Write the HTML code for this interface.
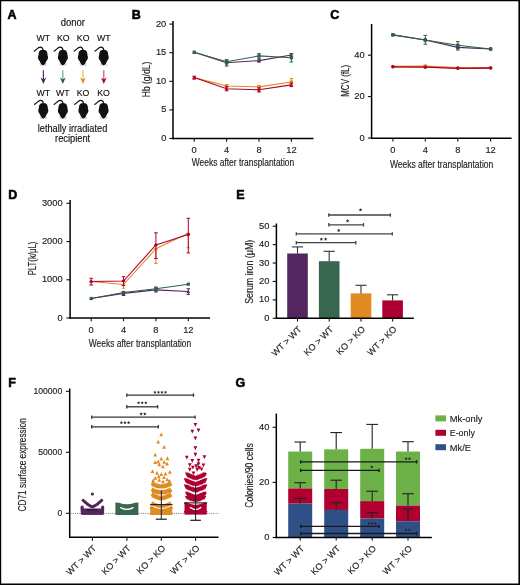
<!DOCTYPE html>
<html><head><meta charset="utf-8"><style>
html,body{margin:0;padding:0;background:#fff;}
svg{display:block;will-change:transform;}
text{font-family:"Liberation Sans",sans-serif;}
</style></head><body>
<svg width="520" height="585" viewBox="0 0 520 585">
<rect width="520" height="585" fill="#fff"/>
<path d="M0,0H520V585H0Z M1.2,1.2V583.4H518.4V1.2Z" fill="#000" fill-rule="evenodd"/>
<text x="7.6" y="18.6" font-size="12.5" text-anchor="start" font-weight="bold" fill="#000" stroke="#000" stroke-width="0.55">A</text>
<text x="72.9" y="26.2" font-size="10" text-anchor="middle" font-weight="normal" fill="#111" stroke="#111" stroke-width="0.15" textLength="24.2" lengthAdjust="spacingAndGlyphs">donor</text>
<text x="43.25" y="41.3" font-size="9.6" text-anchor="middle" font-weight="normal" fill="#111" stroke="#111" stroke-width="0.15" textLength="13.6" lengthAdjust="spacingAndGlyphs">WT</text>
<text x="63.3" y="41.3" font-size="9.6" text-anchor="middle" font-weight="normal" fill="#111" stroke="#111" stroke-width="0.15" textLength="12.6" lengthAdjust="spacingAndGlyphs">KO</text>
<text x="83.15" y="41.3" font-size="9.6" text-anchor="middle" font-weight="normal" fill="#111" stroke="#111" stroke-width="0.15" textLength="12.6" lengthAdjust="spacingAndGlyphs">KO</text>
<text x="103.75" y="41.3" font-size="9.6" text-anchor="middle" font-weight="normal" fill="#111" stroke="#111" stroke-width="0.15" textLength="13.6" lengthAdjust="spacingAndGlyphs">WT</text>
<text x="43.25" y="96.0" font-size="9.6" text-anchor="middle" font-weight="normal" fill="#111" stroke="#111" stroke-width="0.15" textLength="13.6" lengthAdjust="spacingAndGlyphs">WT</text>
<text x="62.85" y="96.0" font-size="9.6" text-anchor="middle" font-weight="normal" fill="#111" stroke="#111" stroke-width="0.15" textLength="13.6" lengthAdjust="spacingAndGlyphs">WT</text>
<text x="83.0" y="96.0" font-size="9.6" text-anchor="middle" font-weight="normal" fill="#111" stroke="#111" stroke-width="0.15" textLength="12.6" lengthAdjust="spacingAndGlyphs">KO</text>
<text x="103.55" y="96.0" font-size="9.6" text-anchor="middle" font-weight="normal" fill="#111" stroke="#111" stroke-width="0.15" textLength="12.6" lengthAdjust="spacingAndGlyphs">KO</text>
<text x="72.5" y="132.2" font-size="10" text-anchor="middle" font-weight="normal" fill="#111" stroke="#111" stroke-width="0.15" textLength="69.5" lengthAdjust="spacingAndGlyphs">lethally irradiated</text>
<text x="72.6" y="142.2" font-size="10" text-anchor="middle" font-weight="normal" fill="#111" stroke="#111" stroke-width="0.15" textLength="35.1" lengthAdjust="spacingAndGlyphs">recipient</text>
<g transform="translate(43,47.07)">
<path d="M0.1,3.2 C-0.1,1.8 -1,0.2 -2.5,0.1 C-4,0 -5,0.8 -6,1.8 C-7,2.8 -7.8,3.8 -8.8,4.1" fill="none" stroke="#111" stroke-width="1.15" stroke-linecap="round"/>
<path d="M0,2.6 C2.2,2.6 3.4,3.5 3.9,4.8 C4.4,6 4.5,7.2 4.6,8.4 C4.9,9.2 5,9.8 5,10.8 C5,11.8 4.7,12.4 4.1,12.9 C3.5,13.5 3.1,14.6 2.6,15.8 C2.1,17 1.1,18.4 0,18.4 C-1.1,18.4 -2.1,17 -2.6,15.8 C-3.1,14.6 -3.5,13.5 -4.1,12.9 C-4.7,12.4 -5,11.8 -5,10.8 C-5,9.8 -4.9,9.2 -4.6,8.4 C-4.5,7.2 -4.4,6 -3.9,4.8 C-3.4,3.5 -2.2,2.6 0,2.6 Z" fill="#111"/>
<path d="M-3.2,16.2 L-2.5,18.8 M3.4,16.2 L2.8,18.8 M-2.2,17 L-1.9,18.9 M2.4,17 L2.1,18.9" stroke="#b8b8b8" stroke-width="0.6"/>
</g>
<g transform="translate(62.9,47.07)">
<path d="M0.1,3.2 C-0.1,1.8 -1,0.2 -2.5,0.1 C-4,0 -5,0.8 -6,1.8 C-7,2.8 -7.8,3.8 -8.8,4.1" fill="none" stroke="#111" stroke-width="1.15" stroke-linecap="round"/>
<path d="M0,2.6 C2.2,2.6 3.4,3.5 3.9,4.8 C4.4,6 4.5,7.2 4.6,8.4 C4.9,9.2 5,9.8 5,10.8 C5,11.8 4.7,12.4 4.1,12.9 C3.5,13.5 3.1,14.6 2.6,15.8 C2.1,17 1.1,18.4 0,18.4 C-1.1,18.4 -2.1,17 -2.6,15.8 C-3.1,14.6 -3.5,13.5 -4.1,12.9 C-4.7,12.4 -5,11.8 -5,10.8 C-5,9.8 -4.9,9.2 -4.6,8.4 C-4.5,7.2 -4.4,6 -3.9,4.8 C-3.4,3.5 -2.2,2.6 0,2.6 Z" fill="#111"/>
<path d="M-3.2,16.2 L-2.5,18.8 M3.4,16.2 L2.8,18.8 M-2.2,17 L-1.9,18.9 M2.4,17 L2.1,18.9" stroke="#b8b8b8" stroke-width="0.6"/>
</g>
<g transform="translate(82.9,47.07)">
<path d="M0.1,3.2 C-0.1,1.8 -1,0.2 -2.5,0.1 C-4,0 -5,0.8 -6,1.8 C-7,2.8 -7.8,3.8 -8.8,4.1" fill="none" stroke="#111" stroke-width="1.15" stroke-linecap="round"/>
<path d="M0,2.6 C2.2,2.6 3.4,3.5 3.9,4.8 C4.4,6 4.5,7.2 4.6,8.4 C4.9,9.2 5,9.8 5,10.8 C5,11.8 4.7,12.4 4.1,12.9 C3.5,13.5 3.1,14.6 2.6,15.8 C2.1,17 1.1,18.4 0,18.4 C-1.1,18.4 -2.1,17 -2.6,15.8 C-3.1,14.6 -3.5,13.5 -4.1,12.9 C-4.7,12.4 -5,11.8 -5,10.8 C-5,9.8 -4.9,9.2 -4.6,8.4 C-4.5,7.2 -4.4,6 -3.9,4.8 C-3.4,3.5 -2.2,2.6 0,2.6 Z" fill="#111"/>
<path d="M-3.2,16.2 L-2.5,18.8 M3.4,16.2 L2.8,18.8 M-2.2,17 L-1.9,18.9 M2.4,17 L2.1,18.9" stroke="#b8b8b8" stroke-width="0.6"/>
</g>
<g transform="translate(103.7,47.07)">
<path d="M0.1,3.2 C-0.1,1.8 -1,0.2 -2.5,0.1 C-4,0 -5,0.8 -6,1.8 C-7,2.8 -7.8,3.8 -8.8,4.1" fill="none" stroke="#111" stroke-width="1.15" stroke-linecap="round"/>
<path d="M0,2.6 C2.2,2.6 3.4,3.5 3.9,4.8 C4.4,6 4.5,7.2 4.6,8.4 C4.9,9.2 5,9.8 5,10.8 C5,11.8 4.7,12.4 4.1,12.9 C3.5,13.5 3.1,14.6 2.6,15.8 C2.1,17 1.1,18.4 0,18.4 C-1.1,18.4 -2.1,17 -2.6,15.8 C-3.1,14.6 -3.5,13.5 -4.1,12.9 C-4.7,12.4 -5,11.8 -5,10.8 C-5,9.8 -4.9,9.2 -4.6,8.4 C-4.5,7.2 -4.4,6 -3.9,4.8 C-3.4,3.5 -2.2,2.6 0,2.6 Z" fill="#111"/>
<path d="M-3.2,16.2 L-2.5,18.8 M3.4,16.2 L2.8,18.8 M-2.2,17 L-1.9,18.9 M2.4,17 L2.1,18.9" stroke="#b8b8b8" stroke-width="0.6"/>
</g>
<g transform="translate(43.3,100.3)">
<path d="M0.1,3.2 C-0.1,1.8 -1,0.2 -2.5,0.1 C-4,0 -5,0.8 -6,1.8 C-7,2.8 -7.8,3.8 -8.8,4.1" fill="none" stroke="#111" stroke-width="1.15" stroke-linecap="round"/>
<path d="M0,2.6 C2.2,2.6 3.4,3.5 3.9,4.8 C4.4,6 4.5,7.2 4.6,8.4 C4.9,9.2 5,9.8 5,10.8 C5,11.8 4.7,12.4 4.1,12.9 C3.5,13.5 3.1,14.6 2.6,15.8 C2.1,17 1.1,18.4 0,18.4 C-1.1,18.4 -2.1,17 -2.6,15.8 C-3.1,14.6 -3.5,13.5 -4.1,12.9 C-4.7,12.4 -5,11.8 -5,10.8 C-5,9.8 -4.9,9.2 -4.6,8.4 C-4.5,7.2 -4.4,6 -3.9,4.8 C-3.4,3.5 -2.2,2.6 0,2.6 Z" fill="#111"/>
<path d="M-3.2,16.2 L-2.5,18.8 M3.4,16.2 L2.8,18.8 M-2.2,17 L-1.9,18.9 M2.4,17 L2.1,18.9" stroke="#b8b8b8" stroke-width="0.6"/>
</g>
<g transform="translate(62.9,100.3)">
<path d="M0.1,3.2 C-0.1,1.8 -1,0.2 -2.5,0.1 C-4,0 -5,0.8 -6,1.8 C-7,2.8 -7.8,3.8 -8.8,4.1" fill="none" stroke="#111" stroke-width="1.15" stroke-linecap="round"/>
<path d="M0,2.6 C2.2,2.6 3.4,3.5 3.9,4.8 C4.4,6 4.5,7.2 4.6,8.4 C4.9,9.2 5,9.8 5,10.8 C5,11.8 4.7,12.4 4.1,12.9 C3.5,13.5 3.1,14.6 2.6,15.8 C2.1,17 1.1,18.4 0,18.4 C-1.1,18.4 -2.1,17 -2.6,15.8 C-3.1,14.6 -3.5,13.5 -4.1,12.9 C-4.7,12.4 -5,11.8 -5,10.8 C-5,9.8 -4.9,9.2 -4.6,8.4 C-4.5,7.2 -4.4,6 -3.9,4.8 C-3.4,3.5 -2.2,2.6 0,2.6 Z" fill="#111"/>
<path d="M-3.2,16.2 L-2.5,18.8 M3.4,16.2 L2.8,18.8 M-2.2,17 L-1.9,18.9 M2.4,17 L2.1,18.9" stroke="#b8b8b8" stroke-width="0.6"/>
</g>
<g transform="translate(83.4,100.3)">
<path d="M0.1,3.2 C-0.1,1.8 -1,0.2 -2.5,0.1 C-4,0 -5,0.8 -6,1.8 C-7,2.8 -7.8,3.8 -8.8,4.1" fill="none" stroke="#111" stroke-width="1.15" stroke-linecap="round"/>
<path d="M0,2.6 C2.2,2.6 3.4,3.5 3.9,4.8 C4.4,6 4.5,7.2 4.6,8.4 C4.9,9.2 5,9.8 5,10.8 C5,11.8 4.7,12.4 4.1,12.9 C3.5,13.5 3.1,14.6 2.6,15.8 C2.1,17 1.1,18.4 0,18.4 C-1.1,18.4 -2.1,17 -2.6,15.8 C-3.1,14.6 -3.5,13.5 -4.1,12.9 C-4.7,12.4 -5,11.8 -5,10.8 C-5,9.8 -4.9,9.2 -4.6,8.4 C-4.5,7.2 -4.4,6 -3.9,4.8 C-3.4,3.5 -2.2,2.6 0,2.6 Z" fill="#111"/>
<path d="M-3.2,16.2 L-2.5,18.8 M3.4,16.2 L2.8,18.8 M-2.2,17 L-1.9,18.9 M2.4,17 L2.1,18.9" stroke="#b8b8b8" stroke-width="0.6"/>
</g>
<g transform="translate(103.6,100.3)">
<path d="M0.1,3.2 C-0.1,1.8 -1,0.2 -2.5,0.1 C-4,0 -5,0.8 -6,1.8 C-7,2.8 -7.8,3.8 -8.8,4.1" fill="none" stroke="#111" stroke-width="1.15" stroke-linecap="round"/>
<path d="M0,2.6 C2.2,2.6 3.4,3.5 3.9,4.8 C4.4,6 4.5,7.2 4.6,8.4 C4.9,9.2 5,9.8 5,10.8 C5,11.8 4.7,12.4 4.1,12.9 C3.5,13.5 3.1,14.6 2.6,15.8 C2.1,17 1.1,18.4 0,18.4 C-1.1,18.4 -2.1,17 -2.6,15.8 C-3.1,14.6 -3.5,13.5 -4.1,12.9 C-4.7,12.4 -5,11.8 -5,10.8 C-5,9.8 -4.9,9.2 -4.6,8.4 C-4.5,7.2 -4.4,6 -3.9,4.8 C-3.4,3.5 -2.2,2.6 0,2.6 Z" fill="#111"/>
<path d="M-3.2,16.2 L-2.5,18.8 M3.4,16.2 L2.8,18.8 M-2.2,17 L-1.9,18.9 M2.4,17 L2.1,18.9" stroke="#b8b8b8" stroke-width="0.6"/>
</g>
<line x1="43.4" y1="70.2" x2="43.4" y2="80" stroke="#5e3272" stroke-width="1.2"/>
<path d="M40.6,77.6 L43.4,84 L46.199999999999996,77.6 L43.4,79.4 Z" fill="#4b1d5e"/>
<line x1="62.8" y1="70.2" x2="62.8" y2="80" stroke="#7aa38c" stroke-width="1.2"/>
<path d="M60.0,77.6 L62.8,84 L65.6,77.6 L62.8,79.4 Z" fill="#1f5b40"/>
<line x1="82.9" y1="70.2" x2="82.9" y2="80" stroke="#efb462" stroke-width="1.2"/>
<path d="M80.10000000000001,77.6 L82.9,84 L85.7,77.6 L82.9,79.4 Z" fill="#e08a10"/>
<line x1="103.8" y1="70.2" x2="103.8" y2="80" stroke="#c6506e" stroke-width="1.2"/>
<path d="M101.0,77.6 L103.8,84 L106.6,77.6 L103.8,79.4 Z" fill="#a8002a"/>
<text x="131.8" y="18.7" font-size="12.5" text-anchor="start" font-weight="bold" fill="#000" stroke="#000" stroke-width="0.55">B</text>
<line x1="173" y1="21" x2="173" y2="139.2" stroke="#000" stroke-width="1.5"/>
<line x1="169.3" y1="138.5" x2="173" y2="138.5" stroke="#111" stroke-width="1.1"/>
<text x="166.3" y="141.048" font-size="9.3" text-anchor="end" font-weight="normal" fill="#222" stroke="#222" stroke-width="0.15">0</text>
<line x1="169.3" y1="109.9" x2="173" y2="109.9" stroke="#111" stroke-width="1.1"/>
<text x="166.3" y="112.44800000000001" font-size="9.3" text-anchor="end" font-weight="normal" fill="#222" stroke="#222" stroke-width="0.15">5</text>
<line x1="169.3" y1="81.30000000000001" x2="173" y2="81.30000000000001" stroke="#111" stroke-width="1.1"/>
<text x="166.3" y="83.84800000000001" font-size="9.3" text-anchor="end" font-weight="normal" fill="#222" stroke="#222" stroke-width="0.15">10</text>
<line x1="169.3" y1="52.7" x2="173" y2="52.7" stroke="#111" stroke-width="1.1"/>
<text x="166.3" y="55.248000000000005" font-size="9.3" text-anchor="end" font-weight="normal" fill="#222" stroke="#222" stroke-width="0.15">15</text>
<line x1="169.3" y1="24.10000000000001" x2="173" y2="24.10000000000001" stroke="#111" stroke-width="1.1"/>
<text x="166.3" y="26.648000000000007" font-size="9.3" text-anchor="end" font-weight="normal" fill="#222" stroke="#222" stroke-width="0.15">20</text>
<line x1="172.3" y1="138.5" x2="313.5" y2="138.5" stroke="#000" stroke-width="1.5"/>
<line x1="194.2" y1="138.5" x2="194.2" y2="141.7" stroke="#111" stroke-width="1.1"/>
<text x="194.2" y="153.0" font-size="9.3" text-anchor="middle" font-weight="normal" fill="#222" stroke="#222" stroke-width="0.15">0</text>
<line x1="226.6" y1="138.5" x2="226.6" y2="141.7" stroke="#111" stroke-width="1.1"/>
<text x="226.6" y="153.0" font-size="9.3" text-anchor="middle" font-weight="normal" fill="#222" stroke="#222" stroke-width="0.15">4</text>
<line x1="259.0" y1="138.5" x2="259.0" y2="141.7" stroke="#111" stroke-width="1.1"/>
<text x="259.0" y="153.0" font-size="9.3" text-anchor="middle" font-weight="normal" fill="#222" stroke="#222" stroke-width="0.15">8</text>
<line x1="291.4" y1="138.5" x2="291.4" y2="141.7" stroke="#111" stroke-width="1.1"/>
<text x="291.4" y="153.0" font-size="9.3" text-anchor="middle" font-weight="normal" fill="#222" stroke="#222" stroke-width="0.15">12</text>
<text x="243.0" y="166" font-size="10.2" text-anchor="middle" font-weight="normal" fill="#222" stroke="#222" stroke-width="0.15" textLength="102.4" lengthAdjust="spacingAndGlyphs">Weeks after transplantation</text>
<text transform="translate(149.6,79.5) rotate(-90)" font-size="10" text-anchor="middle" fill="#222" stroke="#222" stroke-width="0.15" textLength="35.5" lengthAdjust="spacingAndGlyphs">Hb (g/dL)</text>
<polyline points="194.2,77.6 226.6,86.0 259.0,86.9 291.4,82.0" fill="none" stroke="#e08b22" stroke-width="1.1"/>
<line x1="226.6" y1="84.6" x2="226.6" y2="87.4" stroke="#e08b22" stroke-width="1.0"/>
<line x1="224.79999999999998" y1="84.6" x2="228.4" y2="84.6" stroke="#e08b22" stroke-width="1.0"/>
<line x1="224.79999999999998" y1="87.4" x2="228.4" y2="87.4" stroke="#e08b22" stroke-width="1.0"/>
<line x1="259.0" y1="85.6" x2="259.0" y2="88.2" stroke="#e08b22" stroke-width="1.0"/>
<line x1="257.2" y1="85.6" x2="260.8" y2="85.6" stroke="#e08b22" stroke-width="1.0"/>
<line x1="257.2" y1="88.2" x2="260.8" y2="88.2" stroke="#e08b22" stroke-width="1.0"/>
<line x1="291.4" y1="78.6" x2="291.4" y2="84" stroke="#e08b22" stroke-width="1.0"/>
<line x1="289.59999999999997" y1="78.6" x2="293.2" y2="78.6" stroke="#e08b22" stroke-width="1.0"/>
<line x1="289.59999999999997" y1="84" x2="293.2" y2="84" stroke="#e08b22" stroke-width="1.0"/>
<rect x="192.6" y="76.0" width="3.2" height="3.2" fill="#e08b22"/>
<rect x="225.0" y="84.4" width="3.2" height="3.2" fill="#e08b22"/>
<rect x="257.4" y="85.30000000000001" width="3.2" height="3.2" fill="#e08b22"/>
<rect x="289.79999999999995" y="80.4" width="3.2" height="3.2" fill="#e08b22"/>
<polyline points="194.2,77.6 226.6,88.7 259.0,89.8 291.4,84.9" fill="none" stroke="#ad0030" stroke-width="1.1"/>
<line x1="194.2" y1="76.2" x2="194.2" y2="79" stroke="#ad0030" stroke-width="1.0"/>
<line x1="192.39999999999998" y1="76.2" x2="196.0" y2="76.2" stroke="#ad0030" stroke-width="1.0"/>
<line x1="192.39999999999998" y1="79" x2="196.0" y2="79" stroke="#ad0030" stroke-width="1.0"/>
<line x1="226.6" y1="86.6" x2="226.6" y2="90.8" stroke="#ad0030" stroke-width="1.0"/>
<line x1="224.79999999999998" y1="86.6" x2="228.4" y2="86.6" stroke="#ad0030" stroke-width="1.0"/>
<line x1="224.79999999999998" y1="90.8" x2="228.4" y2="90.8" stroke="#ad0030" stroke-width="1.0"/>
<line x1="259.0" y1="87.8" x2="259.0" y2="92" stroke="#ad0030" stroke-width="1.0"/>
<line x1="257.2" y1="87.8" x2="260.8" y2="87.8" stroke="#ad0030" stroke-width="1.0"/>
<line x1="257.2" y1="92" x2="260.8" y2="92" stroke="#ad0030" stroke-width="1.0"/>
<line x1="291.4" y1="83" x2="291.4" y2="86.6" stroke="#ad0030" stroke-width="1.0"/>
<line x1="289.59999999999997" y1="83" x2="293.2" y2="83" stroke="#ad0030" stroke-width="1.0"/>
<line x1="289.59999999999997" y1="86.6" x2="293.2" y2="86.6" stroke="#ad0030" stroke-width="1.0"/>
<path d="M192.35999999999999,79.19999999999999 L196.04,79.19999999999999 L194.2,75.83999999999999 Z" fill="#ad0030"/>
<path d="M224.76,90.3 L228.44,90.3 L226.6,86.94 Z" fill="#ad0030"/>
<path d="M257.16,91.39999999999999 L260.84,91.39999999999999 L259.0,88.03999999999999 Z" fill="#ad0030"/>
<path d="M289.56,86.5 L293.23999999999995,86.5 L291.4,83.14 Z" fill="#ad0030"/>
<polyline points="194.2,52.2 226.6,62.8 259.0,60.6 291.4,55.0" fill="none" stroke="#53265f" stroke-width="1.1"/>
<line x1="226.6" y1="60" x2="226.6" y2="66" stroke="#53265f" stroke-width="1.0"/>
<line x1="224.79999999999998" y1="60" x2="228.4" y2="60" stroke="#53265f" stroke-width="1.0"/>
<line x1="224.79999999999998" y1="66" x2="228.4" y2="66" stroke="#53265f" stroke-width="1.0"/>
<line x1="259.0" y1="59" x2="259.0" y2="62" stroke="#53265f" stroke-width="1.0"/>
<line x1="257.2" y1="59" x2="260.8" y2="59" stroke="#53265f" stroke-width="1.0"/>
<line x1="257.2" y1="62" x2="260.8" y2="62" stroke="#53265f" stroke-width="1.0"/>
<line x1="291.4" y1="53.5" x2="291.4" y2="57" stroke="#53265f" stroke-width="1.0"/>
<line x1="289.59999999999997" y1="53.5" x2="293.2" y2="53.5" stroke="#53265f" stroke-width="1.0"/>
<line x1="289.59999999999997" y1="57" x2="293.2" y2="57" stroke="#53265f" stroke-width="1.0"/>
<path d="M192.35999999999999,53.800000000000004 L196.04,53.800000000000004 L194.2,50.440000000000005 Z" fill="#53265f"/>
<path d="M224.76,64.39999999999999 L228.44,64.39999999999999 L226.6,61.04 Z" fill="#53265f"/>
<path d="M257.16,62.2 L260.84,62.2 L259.0,58.84 Z" fill="#53265f"/>
<path d="M289.56,56.6 L293.23999999999995,56.6 L291.4,53.24 Z" fill="#53265f"/>
<polyline points="194.2,52.2 226.6,61.7 259.0,55.9 291.4,57.7" fill="none" stroke="#2f6148" stroke-width="1.1"/>
<line x1="226.6" y1="59.8" x2="226.6" y2="63.6" stroke="#2f6148" stroke-width="1.0"/>
<line x1="224.79999999999998" y1="59.8" x2="228.4" y2="59.8" stroke="#2f6148" stroke-width="1.0"/>
<line x1="224.79999999999998" y1="63.6" x2="228.4" y2="63.6" stroke="#2f6148" stroke-width="1.0"/>
<line x1="259.0" y1="53.6" x2="259.0" y2="58.2" stroke="#2f6148" stroke-width="1.0"/>
<line x1="257.2" y1="53.6" x2="260.8" y2="53.6" stroke="#2f6148" stroke-width="1.0"/>
<line x1="257.2" y1="58.2" x2="260.8" y2="58.2" stroke="#2f6148" stroke-width="1.0"/>
<line x1="291.4" y1="54" x2="291.4" y2="62" stroke="#2f6148" stroke-width="1.0"/>
<line x1="289.59999999999997" y1="54" x2="293.2" y2="54" stroke="#2f6148" stroke-width="1.0"/>
<line x1="289.59999999999997" y1="62" x2="293.2" y2="62" stroke="#2f6148" stroke-width="1.0"/>
<rect x="192.6" y="50.6" width="3.2" height="3.2" fill="#2f6148"/>
<rect x="225.0" y="60.1" width="3.2" height="3.2" fill="#2f6148"/>
<rect x="257.4" y="54.3" width="3.2" height="3.2" fill="#2f6148"/>
<rect x="289.79999999999995" y="56.1" width="3.2" height="3.2" fill="#2f6148"/>
<text x="330.2" y="19.2" font-size="12.5" text-anchor="start" font-weight="bold" fill="#000" stroke="#000" stroke-width="0.55">C</text>
<line x1="371.6" y1="24" x2="371.6" y2="138.89999999999998" stroke="#000" stroke-width="1.5"/>
<line x1="367.90000000000003" y1="138.0" x2="371.6" y2="138.0" stroke="#111" stroke-width="1.1"/>
<text x="364.7" y="140.548" font-size="9.3" text-anchor="end" font-weight="normal" fill="#222" stroke="#222" stroke-width="0.15">0</text>
<line x1="367.90000000000003" y1="96.6" x2="371.6" y2="96.6" stroke="#111" stroke-width="1.1"/>
<text x="364.7" y="99.148" font-size="9.3" text-anchor="end" font-weight="normal" fill="#222" stroke="#222" stroke-width="0.15">20</text>
<line x1="367.90000000000003" y1="55.2" x2="371.6" y2="55.2" stroke="#111" stroke-width="1.1"/>
<text x="364.7" y="57.748000000000005" font-size="9.3" text-anchor="end" font-weight="normal" fill="#222" stroke="#222" stroke-width="0.15">40</text>
<line x1="370.90000000000003" y1="138.2" x2="511.6" y2="138.2" stroke="#000" stroke-width="1.5"/>
<line x1="392.9" y1="138.2" x2="392.9" y2="141.39999999999998" stroke="#111" stroke-width="1.1"/>
<text x="392.9" y="153.0" font-size="9.3" text-anchor="middle" font-weight="normal" fill="#222" stroke="#222" stroke-width="0.15">0</text>
<line x1="425.3" y1="138.2" x2="425.3" y2="141.39999999999998" stroke="#111" stroke-width="1.1"/>
<text x="425.3" y="153.0" font-size="9.3" text-anchor="middle" font-weight="normal" fill="#222" stroke="#222" stroke-width="0.15">4</text>
<line x1="457.8" y1="138.2" x2="457.8" y2="141.39999999999998" stroke="#111" stroke-width="1.1"/>
<text x="457.8" y="153.0" font-size="9.3" text-anchor="middle" font-weight="normal" fill="#222" stroke="#222" stroke-width="0.15">8</text>
<line x1="490.6" y1="138.2" x2="490.6" y2="141.39999999999998" stroke="#111" stroke-width="1.1"/>
<text x="490.6" y="153.0" font-size="9.3" text-anchor="middle" font-weight="normal" fill="#222" stroke="#222" stroke-width="0.15">12</text>
<text x="441.6" y="167.5" font-size="10.2" text-anchor="middle" font-weight="normal" fill="#222" stroke="#222" stroke-width="0.15" textLength="103.4" lengthAdjust="spacingAndGlyphs">Weeks after transplantation</text>
<text transform="translate(348.8,80.8) rotate(-90)" font-size="10" text-anchor="middle" fill="#222" stroke="#222" stroke-width="0.15" textLength="32" lengthAdjust="spacingAndGlyphs">MCV (fL)</text>
<polyline points="392.9,66.6 425.3,66.4 457.8,67.9 490.6,67.8" fill="none" stroke="#e08b22" stroke-width="1.7"/>
<line x1="425.3" y1="65" x2="425.3" y2="67.5" stroke="#e08b22" stroke-width="1.0"/>
<line x1="423.5" y1="65" x2="427.1" y2="65" stroke="#e08b22" stroke-width="1.0"/>
<line x1="423.5" y1="67.5" x2="427.1" y2="67.5" stroke="#e08b22" stroke-width="1.0"/>
<circle cx="392.9" cy="66.6" r="1.8" fill="#e08b22"/>
<circle cx="425.3" cy="66.4" r="1.8" fill="#e08b22"/>
<circle cx="457.8" cy="67.9" r="1.8" fill="#e08b22"/>
<circle cx="490.6" cy="67.8" r="1.8" fill="#e08b22"/>
<polyline points="392.9,66.8 425.3,67.2 457.8,68.3 490.6,68.0" fill="none" stroke="#ad0030" stroke-width="1.3"/>
<circle cx="392.9" cy="66.8" r="1.8" fill="#ad0030"/>
<circle cx="425.3" cy="67.2" r="1.8" fill="#ad0030"/>
<circle cx="457.8" cy="68.3" r="1.8" fill="#ad0030"/>
<circle cx="490.6" cy="68.0" r="1.8" fill="#ad0030"/>
<polyline points="392.9,34.9 425.3,40.0 457.8,47.4 490.6,49.0" fill="none" stroke="#53265f" stroke-width="1.1"/>
<line x1="457.8" y1="45" x2="457.8" y2="50" stroke="#53265f" stroke-width="1.0"/>
<line x1="456.0" y1="45" x2="459.6" y2="45" stroke="#53265f" stroke-width="1.0"/>
<line x1="456.0" y1="50" x2="459.6" y2="50" stroke="#53265f" stroke-width="1.0"/>
<rect x="391.29999999999995" y="33.3" width="3.2" height="3.2" fill="#53265f"/>
<rect x="423.7" y="38.4" width="3.2" height="3.2" fill="#53265f"/>
<rect x="456.2" y="45.8" width="3.2" height="3.2" fill="#53265f"/>
<rect x="489.0" y="47.4" width="3.2" height="3.2" fill="#53265f"/>
<polyline points="392.9,34.9 425.3,40.0 457.8,45.3 490.6,49.0" fill="none" stroke="#2f6148" stroke-width="1.1"/>
<line x1="425.3" y1="35.4" x2="425.3" y2="44.2" stroke="#2f6148" stroke-width="1.0"/>
<line x1="423.5" y1="35.4" x2="427.1" y2="35.4" stroke="#2f6148" stroke-width="1.0"/>
<line x1="423.5" y1="44.2" x2="427.1" y2="44.2" stroke="#2f6148" stroke-width="1.0"/>
<line x1="457.8" y1="41.6" x2="457.8" y2="48.5" stroke="#2f6148" stroke-width="1.0"/>
<line x1="456.0" y1="41.6" x2="459.6" y2="41.6" stroke="#2f6148" stroke-width="1.0"/>
<line x1="456.0" y1="48.5" x2="459.6" y2="48.5" stroke="#2f6148" stroke-width="1.0"/>
<rect x="391.29999999999995" y="33.3" width="3.2" height="3.2" fill="#2f6148"/>
<rect x="423.7" y="38.4" width="3.2" height="3.2" fill="#2f6148"/>
<rect x="456.2" y="43.699999999999996" width="3.2" height="3.2" fill="#2f6148"/>
<rect x="489.0" y="47.4" width="3.2" height="3.2" fill="#2f6148"/>
<text x="8.2" y="198.5" font-size="12.5" text-anchor="start" font-weight="bold" fill="#000" stroke="#000" stroke-width="0.55">D</text>
<line x1="70.1" y1="200" x2="70.1" y2="318.7" stroke="#000" stroke-width="1.5"/>
<line x1="66.39999999999999" y1="318.0" x2="70.1" y2="318.0" stroke="#111" stroke-width="1.1"/>
<text x="62.6" y="320.548" font-size="9.3" text-anchor="end" font-weight="normal" fill="#222" stroke="#222" stroke-width="0.15">0</text>
<line x1="66.39999999999999" y1="279.77" x2="70.1" y2="279.77" stroke="#111" stroke-width="1.1"/>
<text x="62.6" y="282.318" font-size="9.3" text-anchor="end" font-weight="normal" fill="#222" stroke="#222" stroke-width="0.15">1000</text>
<line x1="66.39999999999999" y1="241.54000000000002" x2="70.1" y2="241.54000000000002" stroke="#111" stroke-width="1.1"/>
<text x="62.6" y="244.08800000000002" font-size="9.3" text-anchor="end" font-weight="normal" fill="#222" stroke="#222" stroke-width="0.15">2000</text>
<line x1="66.39999999999999" y1="203.31" x2="70.1" y2="203.31" stroke="#111" stroke-width="1.1"/>
<text x="62.6" y="205.858" font-size="9.3" text-anchor="end" font-weight="normal" fill="#222" stroke="#222" stroke-width="0.15">3000</text>
<line x1="69.39999999999999" y1="318" x2="210" y2="318" stroke="#000" stroke-width="1.5"/>
<line x1="91.2" y1="318" x2="91.2" y2="321.2" stroke="#111" stroke-width="1.1"/>
<text x="91.2" y="332.6" font-size="9.3" text-anchor="middle" font-weight="normal" fill="#222" stroke="#222" stroke-width="0.15">0</text>
<line x1="123.5" y1="318" x2="123.5" y2="321.2" stroke="#111" stroke-width="1.1"/>
<text x="123.5" y="332.6" font-size="9.3" text-anchor="middle" font-weight="normal" fill="#222" stroke="#222" stroke-width="0.15">4</text>
<line x1="155.9" y1="318" x2="155.9" y2="321.2" stroke="#111" stroke-width="1.1"/>
<text x="155.9" y="332.6" font-size="9.3" text-anchor="middle" font-weight="normal" fill="#222" stroke="#222" stroke-width="0.15">8</text>
<line x1="188.3" y1="318" x2="188.3" y2="321.2" stroke="#111" stroke-width="1.1"/>
<text x="188.3" y="332.6" font-size="9.3" text-anchor="middle" font-weight="normal" fill="#222" stroke="#222" stroke-width="0.15">12</text>
<text x="140" y="347.3" font-size="10.2" text-anchor="middle" font-weight="normal" fill="#222" stroke="#222" stroke-width="0.15" textLength="102.5" lengthAdjust="spacingAndGlyphs">Weeks after transplantation</text>
<text transform="translate(36.4,258.5) rotate(-90)" font-size="10" text-anchor="middle" fill="#222" stroke="#222" stroke-width="0.15" textLength="33.7" lengthAdjust="spacingAndGlyphs">PLT(k/μL)</text>
<polyline points="91.2,281.5 123.5,284.5 155.9,248.7 188.3,233.3" fill="none" stroke="#e08b22" stroke-width="1.1"/>
<line x1="123.5" y1="281" x2="123.5" y2="288.2" stroke="#e08b22" stroke-width="1.0"/>
<line x1="121.7" y1="281" x2="125.3" y2="281" stroke="#e08b22" stroke-width="1.0"/>
<line x1="121.7" y1="288.2" x2="125.3" y2="288.2" stroke="#e08b22" stroke-width="1.0"/>
<line x1="155.9" y1="248.7" x2="155.9" y2="263.4" stroke="#e08b22" stroke-width="1.0"/>
<line x1="154.1" y1="248.7" x2="157.70000000000002" y2="248.7" stroke="#e08b22" stroke-width="1.0"/>
<line x1="154.1" y1="263.4" x2="157.70000000000002" y2="263.4" stroke="#e08b22" stroke-width="1.0"/>
<line x1="188.3" y1="233.3" x2="188.3" y2="247.8" stroke="#e08b22" stroke-width="1.0"/>
<line x1="186.5" y1="233.3" x2="190.10000000000002" y2="233.3" stroke="#e08b22" stroke-width="1.0"/>
<line x1="186.5" y1="247.8" x2="190.10000000000002" y2="247.8" stroke="#e08b22" stroke-width="1.0"/>
<path d="M89.36,283.1 L93.04,283.1 L91.2,279.74 Z" fill="#e08b22"/>
<path d="M121.66,286.1 L125.34,286.1 L123.5,282.74 Z" fill="#e08b22"/>
<path d="M154.06,250.29999999999998 L157.74,250.29999999999998 L155.9,246.94 Z" fill="#e08b22"/>
<path d="M186.46,234.9 L190.14000000000001,234.9 L188.3,231.54000000000002 Z" fill="#e08b22"/>
<polyline points="91.2,281.5 123.5,281.0 155.9,245.0 188.3,234.6" fill="none" stroke="#ad0030" stroke-width="1.1"/>
<line x1="91.2" y1="278.3" x2="91.2" y2="285" stroke="#ad0030" stroke-width="1.0"/>
<line x1="89.4" y1="278.3" x2="93.0" y2="278.3" stroke="#ad0030" stroke-width="1.0"/>
<line x1="89.4" y1="285" x2="93.0" y2="285" stroke="#ad0030" stroke-width="1.0"/>
<line x1="123.5" y1="276.7" x2="123.5" y2="285.5" stroke="#ad0030" stroke-width="1.0"/>
<line x1="121.7" y1="276.7" x2="125.3" y2="276.7" stroke="#ad0030" stroke-width="1.0"/>
<line x1="121.7" y1="285.5" x2="125.3" y2="285.5" stroke="#ad0030" stroke-width="1.0"/>
<line x1="155.9" y1="232.8" x2="155.9" y2="258.5" stroke="#ad0030" stroke-width="1.0"/>
<line x1="154.1" y1="232.8" x2="157.70000000000002" y2="232.8" stroke="#ad0030" stroke-width="1.0"/>
<line x1="154.1" y1="258.5" x2="157.70000000000002" y2="258.5" stroke="#ad0030" stroke-width="1.0"/>
<line x1="188.3" y1="218.3" x2="188.3" y2="252.9" stroke="#ad0030" stroke-width="1.0"/>
<line x1="186.5" y1="218.3" x2="190.10000000000002" y2="218.3" stroke="#ad0030" stroke-width="1.0"/>
<line x1="186.5" y1="252.9" x2="190.10000000000002" y2="252.9" stroke="#ad0030" stroke-width="1.0"/>
<path d="M91.2,279.42 L93.28,281.5 L91.2,283.58 L89.12,281.5 Z" fill="#ad0030"/>
<path d="M123.5,278.92 L125.58,281.0 L123.5,283.08 L121.42,281.0 Z" fill="#ad0030"/>
<path d="M155.9,242.92 L157.98000000000002,245.0 L155.9,247.08 L153.82,245.0 Z" fill="#ad0030"/>
<path d="M188.3,232.51999999999998 L190.38000000000002,234.6 L188.3,236.68 L186.22,234.6 Z" fill="#ad0030"/>
<polyline points="91.2,298.5 123.5,293.4 155.9,289.9 188.3,291.5" fill="none" stroke="#53265f" stroke-width="1.1"/>
<line x1="123.5" y1="291.5" x2="123.5" y2="295.5" stroke="#53265f" stroke-width="1.0"/>
<line x1="121.7" y1="291.5" x2="125.3" y2="291.5" stroke="#53265f" stroke-width="1.0"/>
<line x1="121.7" y1="295.5" x2="125.3" y2="295.5" stroke="#53265f" stroke-width="1.0"/>
<line x1="155.9" y1="288" x2="155.9" y2="292" stroke="#53265f" stroke-width="1.0"/>
<line x1="154.1" y1="288" x2="157.70000000000002" y2="288" stroke="#53265f" stroke-width="1.0"/>
<line x1="154.1" y1="292" x2="157.70000000000002" y2="292" stroke="#53265f" stroke-width="1.0"/>
<line x1="188.3" y1="288.8" x2="188.3" y2="294.4" stroke="#53265f" stroke-width="1.0"/>
<line x1="186.5" y1="288.8" x2="190.10000000000002" y2="288.8" stroke="#53265f" stroke-width="1.0"/>
<line x1="186.5" y1="294.4" x2="190.10000000000002" y2="294.4" stroke="#53265f" stroke-width="1.0"/>
<path d="M89.36,300.1 L93.04,300.1 L91.2,296.74 Z" fill="#53265f"/>
<path d="M121.66,295.0 L125.34,295.0 L123.5,291.64 Z" fill="#53265f"/>
<path d="M154.06,291.5 L157.74,291.5 L155.9,288.14 Z" fill="#53265f"/>
<path d="M186.46,293.1 L190.14000000000001,293.1 L188.3,289.74 Z" fill="#53265f"/>
<polyline points="91.2,298.5 123.5,292.5 155.9,288.8 188.3,284.2" fill="none" stroke="#2f6148" stroke-width="1.1"/>
<line x1="155.9" y1="287" x2="155.9" y2="290.5" stroke="#2f6148" stroke-width="1.0"/>
<line x1="154.1" y1="287" x2="157.70000000000002" y2="287" stroke="#2f6148" stroke-width="1.0"/>
<line x1="154.1" y1="290.5" x2="157.70000000000002" y2="290.5" stroke="#2f6148" stroke-width="1.0"/>
<rect x="89.60000000000001" y="296.9" width="3.2" height="3.2" fill="#2f6148"/>
<rect x="121.9" y="290.9" width="3.2" height="3.2" fill="#2f6148"/>
<rect x="154.3" y="287.2" width="3.2" height="3.2" fill="#2f6148"/>
<rect x="186.70000000000002" y="282.59999999999997" width="3.2" height="3.2" fill="#2f6148"/>
<text x="236.2" y="198.5" font-size="12.5" text-anchor="start" font-weight="bold" fill="#000" stroke="#000" stroke-width="0.55">E</text>
<line x1="276.4" y1="223.5" x2="276.4" y2="319.0" stroke="#000" stroke-width="1.5"/>
<line x1="272.7" y1="318.3" x2="276.4" y2="318.3" stroke="#111" stroke-width="1.1"/>
<text x="269.4" y="320.848" font-size="9.3" text-anchor="end" font-weight="normal" fill="#222" stroke="#222" stroke-width="0.15">0</text>
<line x1="272.7" y1="299.88" x2="276.4" y2="299.88" stroke="#111" stroke-width="1.1"/>
<text x="269.4" y="302.428" font-size="9.3" text-anchor="end" font-weight="normal" fill="#222" stroke="#222" stroke-width="0.15">10</text>
<line x1="272.7" y1="281.46000000000004" x2="276.4" y2="281.46000000000004" stroke="#111" stroke-width="1.1"/>
<text x="269.4" y="284.00800000000004" font-size="9.3" text-anchor="end" font-weight="normal" fill="#222" stroke="#222" stroke-width="0.15">20</text>
<line x1="272.7" y1="263.04" x2="276.4" y2="263.04" stroke="#111" stroke-width="1.1"/>
<text x="269.4" y="265.588" font-size="9.3" text-anchor="end" font-weight="normal" fill="#222" stroke="#222" stroke-width="0.15">30</text>
<line x1="272.7" y1="244.62" x2="276.4" y2="244.62" stroke="#111" stroke-width="1.1"/>
<text x="269.4" y="247.168" font-size="9.3" text-anchor="end" font-weight="normal" fill="#222" stroke="#222" stroke-width="0.15">40</text>
<line x1="272.7" y1="226.2" x2="276.4" y2="226.2" stroke="#111" stroke-width="1.1"/>
<text x="269.4" y="228.748" font-size="9.3" text-anchor="end" font-weight="normal" fill="#222" stroke="#222" stroke-width="0.15">50</text>
<rect x="287.2" y="253.49844000000002" width="20.6" height="64.80156" fill="#53265f"/>
<line x1="297.5" y1="253.49844000000002" x2="297.5" y2="246.90408000000002" stroke="#333" stroke-width="1.1"/>
<line x1="291.9" y1="246.90408000000002" x2="303.1" y2="246.90408000000002" stroke="#333" stroke-width="1.1"/>
<rect x="318.9" y="261.198" width="20.6" height="57.10200000000003" fill="#38664f"/>
<line x1="329.2" y1="261.198" x2="329.2" y2="251.30646000000002" stroke="#333" stroke-width="1.1"/>
<line x1="323.59999999999997" y1="251.30646000000002" x2="334.8" y2="251.30646000000002" stroke="#333" stroke-width="1.1"/>
<rect x="350.7" y="293.39616" width="20.6" height="24.903840000000002" fill="#e08b22"/>
<line x1="361.0" y1="293.39616" x2="361.0" y2="285.29136" stroke="#333" stroke-width="1.1"/>
<line x1="355.4" y1="285.29136" x2="366.6" y2="285.29136" stroke="#333" stroke-width="1.1"/>
<rect x="382.3" y="300.39576" width="20.6" height="17.904240000000016" fill="#ad0030"/>
<line x1="392.6" y1="300.39576" x2="392.6" y2="294.79608" stroke="#333" stroke-width="1.1"/>
<line x1="387.0" y1="294.79608" x2="398.20000000000005" y2="294.79608" stroke="#333" stroke-width="1.1"/>
<line x1="275.7" y1="318.3" x2="413.8" y2="318.3" stroke="#000" stroke-width="1.5"/>
<line x1="297.5" y1="318.3" x2="297.5" y2="321.5" stroke="#111" stroke-width="1.1"/>
<line x1="329.2" y1="318.3" x2="329.2" y2="321.5" stroke="#111" stroke-width="1.1"/>
<line x1="361.0" y1="318.3" x2="361.0" y2="321.5" stroke="#111" stroke-width="1.1"/>
<line x1="392.6" y1="318.3" x2="392.6" y2="321.5" stroke="#111" stroke-width="1.1"/>
<line x1="328.8" y1="215.0" x2="390.4" y2="215.0" stroke="#444" stroke-width="1.3"/>
<line x1="328.8" y1="213.3" x2="328.8" y2="216.7" stroke="#444" stroke-width="1.3"/>
<line x1="390.4" y1="213.3" x2="390.4" y2="216.7" stroke="#444" stroke-width="1.3"/>
<path d="M360.50,208.00 L360.97,209.25 L362.31,209.31 L361.26,210.15 L361.62,211.44 L360.50,210.70 L359.38,211.44 L359.74,210.15 L358.69,209.31 L360.03,209.25Z" fill="#222"/>
<line x1="328.8" y1="224.8" x2="363.5" y2="224.8" stroke="#444" stroke-width="1.3"/>
<line x1="328.8" y1="223.10000000000002" x2="328.8" y2="226.5" stroke="#444" stroke-width="1.3"/>
<line x1="363.5" y1="223.10000000000002" x2="363.5" y2="226.5" stroke="#444" stroke-width="1.3"/>
<path d="M347.60,219.00 L348.07,220.25 L349.41,220.31 L348.36,221.15 L348.72,222.44 L347.60,221.70 L346.48,222.44 L346.84,221.15 L345.79,220.31 L347.13,220.25Z" fill="#222"/>
<line x1="296.3" y1="233.9" x2="392.3" y2="233.9" stroke="#444" stroke-width="1.3"/>
<line x1="296.3" y1="232.20000000000002" x2="296.3" y2="235.6" stroke="#444" stroke-width="1.3"/>
<line x1="392.3" y1="232.20000000000002" x2="392.3" y2="235.6" stroke="#444" stroke-width="1.3"/>
<path d="M338.70,228.50 L339.17,229.75 L340.51,229.81 L339.46,230.65 L339.82,231.94 L338.70,231.20 L337.58,231.94 L337.94,230.65 L336.89,229.81 L338.23,229.75Z" fill="#222"/>
<line x1="296.3" y1="242.7" x2="355.8" y2="242.7" stroke="#444" stroke-width="1.3"/>
<line x1="296.3" y1="241.0" x2="296.3" y2="244.39999999999998" stroke="#444" stroke-width="1.3"/>
<line x1="355.8" y1="241.0" x2="355.8" y2="244.39999999999998" stroke="#444" stroke-width="1.3"/>
<path d="M321.35,237.30 L321.82,238.55 L323.16,238.61 L322.11,239.45 L322.47,240.74 L321.35,240.00 L320.23,240.74 L320.59,239.45 L319.54,238.61 L320.88,238.55ZM325.65,237.30 L326.12,238.55 L327.46,238.61 L326.41,239.45 L326.77,240.74 L325.65,240.00 L324.53,240.74 L324.89,239.45 L323.84,238.61 L325.18,238.55Z" fill="#222"/>
<text transform="translate(253.2,271.8) rotate(-90)" font-size="10" text-anchor="middle" fill="#222" stroke="#222" stroke-width="0.15" textLength="64" lengthAdjust="spacingAndGlyphs">Serum iron (μM)</text>
<text transform="translate(302.1,329.90000000000003) rotate(-45)" font-size="9" text-anchor="end" fill="#222" stroke="#222" stroke-width="0.15">WT &gt; WT</text>
<text transform="translate(333.8,329.90000000000003) rotate(-45)" font-size="9" text-anchor="end" fill="#222" stroke="#222" stroke-width="0.15">KO &gt; WT</text>
<text transform="translate(365.6,329.90000000000003) rotate(-45)" font-size="9" text-anchor="end" fill="#222" stroke="#222" stroke-width="0.15">KO &gt; KO</text>
<text transform="translate(397.20000000000005,329.90000000000003) rotate(-45)" font-size="9" text-anchor="end" fill="#222" stroke="#222" stroke-width="0.15">WT &gt; KO</text>
<text x="8.2" y="386.5" font-size="12.5" text-anchor="start" font-weight="bold" fill="#000" stroke="#000" stroke-width="0.55">F</text>
<line x1="69.7" y1="388.5" x2="69.7" y2="537.9000000000001" stroke="#000" stroke-width="1.5"/>
<line x1="66.0" y1="513.3" x2="69.7" y2="513.3" stroke="#111" stroke-width="1.1"/>
<text x="62.2" y="515.596" font-size="8.6" text-anchor="end" font-weight="normal" fill="#222" stroke="#222" stroke-width="0.15">0</text>
<line x1="66.0" y1="452.29999999999995" x2="69.7" y2="452.29999999999995" stroke="#111" stroke-width="1.1"/>
<text x="62.2" y="454.59599999999995" font-size="8.6" text-anchor="end" font-weight="normal" fill="#222" stroke="#222" stroke-width="0.15">50000</text>
<line x1="66.0" y1="391.29999999999995" x2="69.7" y2="391.29999999999995" stroke="#111" stroke-width="1.1"/>
<text x="62.2" y="393.59599999999995" font-size="8.6" text-anchor="end" font-weight="normal" fill="#222" stroke="#222" stroke-width="0.15">100000</text>
<line x1="70.4" y1="513.4" x2="218.5" y2="513.4" stroke="#555" stroke-width="0.8" stroke-dasharray="1,1.2"/>
<line x1="69.0" y1="537.2" x2="218.5" y2="537.2" stroke="#000" stroke-width="1.5"/>
<line x1="92.4" y1="537.2" x2="92.4" y2="540.8000000000001" stroke="#111" stroke-width="1.1"/>
<line x1="126.9" y1="537.2" x2="126.9" y2="540.8000000000001" stroke="#111" stroke-width="1.1"/>
<line x1="161.3" y1="537.2" x2="161.3" y2="540.8000000000001" stroke="#111" stroke-width="1.1"/>
<line x1="195.6" y1="537.2" x2="195.6" y2="540.8000000000001" stroke="#111" stroke-width="1.1"/>
<text transform="translate(26.3,464.9) rotate(-90)" font-size="10" text-anchor="middle" fill="#222" stroke="#222" stroke-width="0.15" textLength="93.4" lengthAdjust="spacingAndGlyphs">CD71 surface expression</text>
<text transform="translate(97.0,548.8000000000001) rotate(-45)" font-size="9" text-anchor="end" fill="#222" stroke="#222" stroke-width="0.15">WT &gt; WT</text>
<text transform="translate(131.5,548.8000000000001) rotate(-45)" font-size="9" text-anchor="end" fill="#222" stroke="#222" stroke-width="0.15">KO &gt; WT</text>
<text transform="translate(165.9,548.8000000000001) rotate(-45)" font-size="9" text-anchor="end" fill="#222" stroke="#222" stroke-width="0.15">KO &gt; KO</text>
<text transform="translate(200.2,548.8000000000001) rotate(-45)" font-size="9" text-anchor="end" fill="#222" stroke="#222" stroke-width="0.15">WT &gt; KO</text>
<line x1="126.8" y1="395.1" x2="193.5" y2="395.1" stroke="#333" stroke-width="1.3"/>
<line x1="126.8" y1="393.40000000000003" x2="126.8" y2="396.8" stroke="#333" stroke-width="1.3"/>
<line x1="193.5" y1="393.40000000000003" x2="193.5" y2="396.8" stroke="#333" stroke-width="1.3"/>
<path d="M154.95,390.50 L155.42,391.65 L156.66,391.74 L155.71,392.55 L156.01,393.76 L154.95,393.10 L153.89,393.76 L154.19,392.55 L153.24,391.74 L154.48,391.65ZM158.45,390.50 L158.92,391.65 L160.16,391.74 L159.21,392.55 L159.51,393.76 L158.45,393.10 L157.39,393.76 L157.69,392.55 L156.74,391.74 L157.98,391.65ZM161.95,390.50 L162.42,391.65 L163.66,391.74 L162.71,392.55 L163.01,393.76 L161.95,393.10 L160.89,393.76 L161.19,392.55 L160.24,391.74 L161.48,391.65ZM165.45,390.50 L165.92,391.65 L167.16,391.74 L166.21,392.55 L166.51,393.76 L165.45,393.10 L164.39,393.76 L164.69,392.55 L163.74,391.74 L164.98,391.65Z" fill="#222"/>
<line x1="126.8" y1="406.8" x2="157.6" y2="406.8" stroke="#333" stroke-width="1.3"/>
<line x1="126.8" y1="405.1" x2="126.8" y2="408.5" stroke="#333" stroke-width="1.3"/>
<line x1="157.6" y1="405.1" x2="157.6" y2="408.5" stroke="#333" stroke-width="1.3"/>
<path d="M138.60,401.00 L139.07,402.15 L140.31,402.24 L139.36,403.05 L139.66,404.26 L138.60,403.60 L137.54,404.26 L137.84,403.05 L136.89,402.24 L138.13,402.15ZM142.20,401.00 L142.67,402.15 L143.91,402.24 L142.96,403.05 L143.26,404.26 L142.20,403.60 L141.14,404.26 L141.44,403.05 L140.49,402.24 L141.73,402.15ZM145.80,401.00 L146.27,402.15 L147.51,402.24 L146.56,403.05 L146.86,404.26 L145.80,403.60 L144.74,404.26 L145.04,403.05 L144.09,402.24 L145.33,402.15Z" fill="#222"/>
<line x1="91.7" y1="417.1" x2="195.1" y2="417.1" stroke="#333" stroke-width="1.3"/>
<line x1="91.7" y1="415.40000000000003" x2="91.7" y2="418.8" stroke="#333" stroke-width="1.3"/>
<line x1="195.1" y1="415.40000000000003" x2="195.1" y2="418.8" stroke="#333" stroke-width="1.3"/>
<path d="M141.20,412.20 L141.67,413.35 L142.91,413.44 L141.96,414.25 L142.26,415.46 L141.20,414.80 L140.14,415.46 L140.44,414.25 L139.49,413.44 L140.73,413.35ZM144.80,412.20 L145.27,413.35 L146.51,413.44 L145.56,414.25 L145.86,415.46 L144.80,414.80 L143.74,415.46 L144.04,414.25 L143.09,413.44 L144.33,413.35Z" fill="#222"/>
<line x1="91.7" y1="426.8" x2="158.3" y2="426.8" stroke="#333" stroke-width="1.3"/>
<line x1="91.7" y1="425.1" x2="91.7" y2="428.5" stroke="#333" stroke-width="1.3"/>
<line x1="158.3" y1="425.1" x2="158.3" y2="428.5" stroke="#333" stroke-width="1.3"/>
<path d="M121.40,420.80 L121.87,421.95 L123.11,422.04 L122.16,422.85 L122.46,424.06 L121.40,423.40 L120.34,424.06 L120.64,422.85 L119.69,422.04 L120.93,421.95ZM125.00,420.80 L125.47,421.95 L126.71,422.04 L125.76,422.85 L126.06,424.06 L125.00,423.40 L123.94,424.06 L124.24,422.85 L123.29,422.04 L124.53,421.95ZM128.60,420.80 L129.07,421.95 L130.31,422.04 L129.36,422.85 L129.66,424.06 L128.60,423.40 L127.54,424.06 L127.84,422.85 L126.89,422.04 L128.13,421.95Z" fill="#222"/>
<text x="235.6" y="386.9" font-size="12.5" text-anchor="start" font-weight="bold" fill="#000" stroke="#000" stroke-width="0.55">G</text>
<line x1="276.3" y1="413.5" x2="276.3" y2="538.2" stroke="#000" stroke-width="1.5"/>
<line x1="272.6" y1="537.5" x2="276.3" y2="537.5" stroke="#111" stroke-width="1.1"/>
<text x="269.4" y="540.048" font-size="9.3" text-anchor="end" font-weight="normal" fill="#222" stroke="#222" stroke-width="0.15">0</text>
<line x1="272.6" y1="482.4" x2="276.3" y2="482.4" stroke="#111" stroke-width="1.1"/>
<text x="269.4" y="484.948" font-size="9.3" text-anchor="end" font-weight="normal" fill="#222" stroke="#222" stroke-width="0.15">20</text>
<line x1="272.6" y1="427.3" x2="276.3" y2="427.3" stroke="#111" stroke-width="1.1"/>
<text x="269.4" y="429.848" font-size="9.3" text-anchor="end" font-weight="normal" fill="#222" stroke="#222" stroke-width="0.15">40</text>
<rect x="288.2" y="451.544" width="24" height="36.91700000000003" fill="#6cb048"/>
<rect x="288.2" y="488.461" width="24" height="15.152499999999975" fill="#b0002f"/>
<rect x="288.2" y="503.6135" width="24" height="33.88650000000001" fill="#2e5087"/>
<line x1="300.2" y1="451.544" x2="300.2" y2="442.0117" stroke="#222" stroke-width="1.1"/>
<line x1="294.4" y1="442.0117" x2="306.0" y2="442.0117" stroke="#222" stroke-width="1.1"/>
<line x1="300.2" y1="488.461" x2="300.2" y2="482.6755" stroke="#222" stroke-width="1.1"/>
<line x1="294.4" y1="482.6755" x2="306.0" y2="482.6755" stroke="#222" stroke-width="1.1"/>
<line x1="300.2" y1="503.6135" x2="300.2" y2="498.379" stroke="#222" stroke-width="1.1"/>
<line x1="294.4" y1="498.379" x2="306.0" y2="498.379" stroke="#222" stroke-width="1.1"/>
<rect x="324.2" y="449.34000000000003" width="24" height="39.67199999999997" fill="#6cb048"/>
<rect x="324.2" y="489.012" width="24" height="20.937999999999988" fill="#b0002f"/>
<rect x="324.2" y="509.95" width="24" height="27.55000000000001" fill="#2e5087"/>
<line x1="336.2" y1="449.34000000000003" x2="336.2" y2="432.5345" stroke="#222" stroke-width="1.1"/>
<line x1="330.4" y1="432.5345" x2="342.0" y2="432.5345" stroke="#222" stroke-width="1.1"/>
<line x1="336.2" y1="489.012" x2="336.2" y2="480.196" stroke="#222" stroke-width="1.1"/>
<line x1="330.4" y1="480.196" x2="342.0" y2="480.196" stroke="#222" stroke-width="1.1"/>
<line x1="336.2" y1="509.95" x2="336.2" y2="502.787" stroke="#222" stroke-width="1.1"/>
<line x1="330.4" y1="502.787" x2="342.0" y2="502.787" stroke="#222" stroke-width="1.1"/>
<rect x="360.2" y="448.789" width="24" height="52.34500000000003" fill="#6cb048"/>
<rect x="360.2" y="501.134" width="24" height="17.356499999999983" fill="#b0002f"/>
<rect x="360.2" y="518.4905" width="24" height="19.009500000000003" fill="#2e5087"/>
<line x1="372.2" y1="448.789" x2="372.2" y2="424.40725000000003" stroke="#222" stroke-width="1.1"/>
<line x1="366.4" y1="424.40725000000003" x2="378.0" y2="424.40725000000003" stroke="#222" stroke-width="1.1"/>
<line x1="372.2" y1="501.134" x2="372.2" y2="491.216" stroke="#222" stroke-width="1.1"/>
<line x1="366.4" y1="491.216" x2="378.0" y2="491.216" stroke="#222" stroke-width="1.1"/>
<line x1="372.2" y1="518.4905" x2="372.2" y2="512.705" stroke="#222" stroke-width="1.1"/>
<line x1="366.4" y1="512.705" x2="378.0" y2="512.705" stroke="#222" stroke-width="1.1"/>
<rect x="396.0" y="451.544" width="24" height="53.99800000000005" fill="#6cb048"/>
<rect x="396.0" y="505.54200000000003" width="24" height="15.703499999999963" fill="#b0002f"/>
<rect x="396.0" y="521.2455" width="24" height="16.254500000000007" fill="#2e5087"/>
<line x1="408.0" y1="451.544" x2="408.0" y2="441.70865" stroke="#222" stroke-width="1.1"/>
<line x1="402.2" y1="441.70865" x2="413.8" y2="441.70865" stroke="#222" stroke-width="1.1"/>
<line x1="408.0" y1="505.54200000000003" x2="408.0" y2="493.6955" stroke="#222" stroke-width="1.1"/>
<line x1="402.2" y1="493.6955" x2="413.8" y2="493.6955" stroke="#222" stroke-width="1.1"/>
<line x1="408.0" y1="521.2455" x2="408.0" y2="508.848" stroke="#222" stroke-width="1.1"/>
<line x1="402.2" y1="508.848" x2="413.8" y2="508.848" stroke="#222" stroke-width="1.1"/>
<line x1="275.6" y1="537.5" x2="431.8" y2="537.5" stroke="#000" stroke-width="1.5"/>
<line x1="300.2" y1="537.5" x2="300.2" y2="540.5" stroke="#111" stroke-width="1.1"/>
<line x1="336.2" y1="537.5" x2="336.2" y2="540.5" stroke="#111" stroke-width="1.1"/>
<line x1="372.2" y1="537.5" x2="372.2" y2="540.5" stroke="#111" stroke-width="1.1"/>
<line x1="408.0" y1="537.5" x2="408.0" y2="540.5" stroke="#111" stroke-width="1.1"/>
<line x1="300.7" y1="461.9" x2="416.7" y2="461.9" stroke="#1a1a1a" stroke-width="1.4"/>
<line x1="300.7" y1="460.2" x2="300.7" y2="463.59999999999997" stroke="#1a1a1a" stroke-width="1.4"/>
<line x1="416.7" y1="460.2" x2="416.7" y2="463.59999999999997" stroke="#1a1a1a" stroke-width="1.4"/>
<path d="M406.10,457.10 L406.57,458.05 L407.62,458.21 L406.86,458.95 L407.04,459.99 L406.10,459.50 L405.16,459.99 L405.34,458.95 L404.58,458.21 L405.63,458.05ZM409.50,457.10 L409.97,458.05 L411.02,458.21 L410.26,458.95 L410.44,459.99 L409.50,459.50 L408.56,459.99 L408.74,458.95 L407.98,458.21 L409.03,458.05Z" fill="#222"/>
<line x1="300.7" y1="470.4" x2="379.0" y2="470.4" stroke="#1a1a1a" stroke-width="1.4"/>
<line x1="300.7" y1="468.7" x2="300.7" y2="472.09999999999997" stroke="#1a1a1a" stroke-width="1.4"/>
<line x1="379.0" y1="468.7" x2="379.0" y2="472.09999999999997" stroke="#1a1a1a" stroke-width="1.4"/>
<path d="M371.80,465.30 L372.27,466.25 L373.32,466.41 L372.56,467.15 L372.74,468.19 L371.80,467.70 L370.86,468.19 L371.04,467.15 L370.28,466.41 L371.33,466.25Z" fill="#222"/>
<line x1="300.7" y1="526.4" x2="379.0" y2="526.4" stroke="#1a1a1a" stroke-width="1.4"/>
<line x1="300.7" y1="524.6999999999999" x2="300.7" y2="528.1" stroke="#1a1a1a" stroke-width="1.4"/>
<line x1="379.0" y1="524.6999999999999" x2="379.0" y2="528.1" stroke="#1a1a1a" stroke-width="1.4"/>
<path d="M369.00,521.80 L369.47,522.75 L370.52,522.91 L369.76,523.65 L369.94,524.69 L369.00,524.20 L368.06,524.69 L368.24,523.65 L367.48,522.91 L368.53,522.75ZM372.20,521.80 L372.67,522.75 L373.72,522.91 L372.96,523.65 L373.14,524.69 L372.20,524.20 L371.26,524.69 L371.44,523.65 L370.68,522.91 L371.73,522.75ZM375.40,521.80 L375.87,522.75 L376.92,522.91 L376.16,523.65 L376.34,524.69 L375.40,524.20 L374.46,524.69 L374.64,523.65 L373.88,522.91 L374.93,522.75Z" fill="#222"/>
<line x1="300.7" y1="533.5" x2="416.7" y2="533.5" stroke="#1a1a1a" stroke-width="1.4"/>
<line x1="300.7" y1="531.8" x2="300.7" y2="535.2" stroke="#1a1a1a" stroke-width="1.4"/>
<line x1="416.7" y1="531.8" x2="416.7" y2="535.2" stroke="#1a1a1a" stroke-width="1.4"/>
<path d="M406.10,528.20 L406.57,529.15 L407.62,529.31 L406.86,530.05 L407.04,531.09 L406.10,530.60 L405.16,531.09 L405.34,530.05 L404.58,529.31 L405.63,529.15ZM409.50,528.20 L409.97,529.15 L411.02,529.31 L410.26,530.05 L410.44,531.09 L409.50,530.60 L408.56,531.09 L408.74,530.05 L407.98,529.31 L409.03,529.15Z" fill="#222"/>
<text transform="translate(253.3,475.5) rotate(-90)" font-size="10" text-anchor="middle" fill="#222" stroke="#222" stroke-width="0.15" textLength="64.5" lengthAdjust="spacingAndGlyphs">Colonies/90 cells</text>
<text transform="translate(304.8,549.1) rotate(-45)" font-size="9" text-anchor="end" fill="#222" stroke="#222" stroke-width="0.15">WT &gt; WT</text>
<text transform="translate(340.8,549.1) rotate(-45)" font-size="9" text-anchor="end" fill="#222" stroke="#222" stroke-width="0.15">KO &gt; WT</text>
<text transform="translate(376.8,549.1) rotate(-45)" font-size="9" text-anchor="end" fill="#222" stroke="#222" stroke-width="0.15">KO &gt; KO</text>
<text transform="translate(412.6,549.1) rotate(-45)" font-size="9" text-anchor="end" fill="#222" stroke="#222" stroke-width="0.15">WT &gt; KO</text>
<rect x="435.4" y="415.4" width="10.6" height="6" fill="#6cb048"/>
<text x="449.8" y="421.7" font-size="9.5" text-anchor="start" font-weight="normal" fill="#222" stroke="#222" stroke-width="0.15" textLength="32.7" lengthAdjust="spacingAndGlyphs">Mk-only</text>
<rect x="435.4" y="429.8" width="10.6" height="6" fill="#b0002f"/>
<text x="449.8" y="436.1" font-size="9.5" text-anchor="start" font-weight="normal" fill="#222" stroke="#222" stroke-width="0.15" textLength="25" lengthAdjust="spacingAndGlyphs">E-only</text>
<rect x="435.4" y="444.2" width="10.6" height="6" fill="#2e5087"/>
<text x="449.8" y="450.5" font-size="9.5" text-anchor="start" font-weight="normal" fill="#222" stroke="#222" stroke-width="0.15" textLength="21.2" lengthAdjust="spacingAndGlyphs">Mk/E</text>
<g fill="#53265f"><circle cx="92.40" cy="494.00" r="1.6"/><circle cx="83.20" cy="500.30" r="1.6"/><circle cx="84.51" cy="501.54" r="1.6"/><circle cx="85.83" cy="502.70" r="1.6"/><circle cx="87.14" cy="503.78" r="1.6"/><circle cx="88.46" cy="504.75" r="1.6"/><circle cx="89.77" cy="505.59" r="1.6"/><circle cx="91.09" cy="506.28" r="1.6"/><circle cx="92.40" cy="506.70" r="1.6"/><circle cx="93.71" cy="506.28" r="1.6"/><circle cx="95.03" cy="505.59" r="1.6"/><circle cx="96.34" cy="504.75" r="1.6"/><circle cx="97.66" cy="503.78" r="1.6"/><circle cx="98.97" cy="502.70" r="1.6"/><circle cx="100.29" cy="501.54" r="1.6"/><circle cx="101.60" cy="500.30" r="1.6"/><circle cx="82.25" cy="513.30" r="1.6"/><circle cx="83.70" cy="513.30" r="1.6"/><circle cx="85.15" cy="513.30" r="1.6"/><circle cx="86.60" cy="513.30" r="1.6"/><circle cx="88.05" cy="513.30" r="1.6"/><circle cx="89.50" cy="513.30" r="1.6"/><circle cx="90.95" cy="513.30" r="1.6"/><circle cx="92.40" cy="513.30" r="1.6"/><circle cx="93.85" cy="513.30" r="1.6"/><circle cx="95.30" cy="513.30" r="1.6"/><circle cx="96.75" cy="513.30" r="1.6"/><circle cx="98.20" cy="513.30" r="1.6"/><circle cx="99.65" cy="513.30" r="1.6"/><circle cx="101.10" cy="513.30" r="1.6"/><circle cx="102.55" cy="513.30" r="1.6"/><circle cx="82.25" cy="511.70" r="1.6"/><circle cx="83.70" cy="511.70" r="1.6"/><circle cx="85.15" cy="511.70" r="1.6"/><circle cx="86.60" cy="511.70" r="1.6"/><circle cx="88.05" cy="511.70" r="1.6"/><circle cx="89.50" cy="511.70" r="1.6"/><circle cx="90.95" cy="511.70" r="1.6"/><circle cx="92.40" cy="511.70" r="1.6"/><circle cx="93.85" cy="511.70" r="1.6"/><circle cx="95.30" cy="511.70" r="1.6"/><circle cx="96.75" cy="511.70" r="1.6"/><circle cx="98.20" cy="511.70" r="1.6"/><circle cx="99.65" cy="511.70" r="1.6"/><circle cx="101.10" cy="511.70" r="1.6"/><circle cx="102.55" cy="511.70" r="1.6"/><circle cx="82.25" cy="510.20" r="1.6"/><circle cx="83.70" cy="510.20" r="1.6"/><circle cx="85.15" cy="510.20" r="1.6"/><circle cx="86.60" cy="510.20" r="1.6"/><circle cx="88.05" cy="510.20" r="1.6"/><circle cx="89.50" cy="510.20" r="1.6"/><circle cx="90.95" cy="510.20" r="1.6"/><circle cx="92.40" cy="510.20" r="1.6"/><circle cx="93.85" cy="510.20" r="1.6"/><circle cx="95.30" cy="510.20" r="1.6"/><circle cx="96.75" cy="510.20" r="1.6"/><circle cx="98.20" cy="510.20" r="1.6"/><circle cx="99.65" cy="510.20" r="1.6"/><circle cx="101.10" cy="510.20" r="1.6"/><circle cx="102.55" cy="510.20" r="1.6"/><circle cx="82.10" cy="508.40" r="1.6"/><circle cx="102.70" cy="508.40" r="1.6"/><circle cx="82.10" cy="507.00" r="1.6"/><circle cx="102.70" cy="507.00" r="1.6"/></g>
<line x1="86.80000000000001" y1="509.9" x2="97.60000000000001" y2="509.9" stroke="#1a1a1a" stroke-width="1.0"/>
<path d="M115.4,502.6 L118.9,502.8 Q126.9,505.8 134.9,502.8 L138.4,502.6 L138.4,515 L115.4,515 Z" fill="#38664f"/>
<path d="M120.7,507.6 Q126.9,511.2 133.1,507.6" fill="none" stroke="#fff" stroke-width="1.3" stroke-linecap="round"/>
<path d="M150.4,515.1 L150.4,507.2 Q151.10000000000002,505.8 152.70000000000002,507.4 Q161.3,512.6 169.9,507.4 Q171.5,505.8 172.20000000000002,507.2 L172.20000000000002,515.1 Z" fill="#e08b22"/>
<path fill="#e08b22" d="M149.39,514.45L153.21,514.45L151.30,510.65ZM150.64,514.45L154.46,514.45L152.55,510.65ZM151.89,514.45L155.71,514.45L153.80,510.65ZM153.14,514.45L156.96,514.45L155.05,510.65ZM154.39,514.45L158.21,514.45L156.30,510.65ZM155.64,514.45L159.46,514.45L157.55,510.65ZM156.89,514.45L160.71,514.45L158.80,510.65ZM158.14,514.45L161.96,514.45L160.05,510.65ZM159.39,514.45L163.21,514.45L161.30,510.65ZM160.64,514.45L164.46,514.45L162.55,510.65ZM161.89,514.45L165.71,514.45L163.80,510.65ZM163.14,514.45L166.96,514.45L165.05,510.65ZM164.39,514.45L168.21,514.45L166.30,510.65ZM165.64,514.45L169.46,514.45L167.55,510.65ZM166.89,514.45L170.71,514.45L168.80,510.65ZM168.14,514.45L171.96,514.45L170.05,510.65ZM169.39,514.45L173.21,514.45L171.30,510.65ZM149.39,509.05L153.21,509.05L151.30,505.25ZM150.64,509.67L154.46,509.67L152.55,505.87ZM151.89,510.23L155.71,510.23L153.80,506.43ZM153.14,510.74L156.96,510.74L155.05,506.94ZM154.39,511.20L158.21,511.20L156.30,507.39ZM155.64,511.59L159.46,511.59L157.55,507.78ZM156.89,511.90L160.71,511.90L158.80,508.10ZM158.14,512.14L161.96,512.14L160.05,508.34ZM159.39,512.25L163.21,512.25L161.30,508.45ZM160.64,512.14L164.46,512.14L162.55,508.34ZM161.89,511.90L165.71,511.90L163.80,508.10ZM163.14,511.59L166.96,511.59L165.05,507.78ZM164.39,511.20L168.21,511.20L166.30,507.39ZM165.64,510.74L169.46,510.74L167.55,506.94ZM166.89,510.23L170.71,510.23L168.80,506.43ZM168.14,509.67L171.96,509.67L170.05,505.87ZM169.39,509.05L173.21,509.05L171.30,505.25ZM150.64,504.77L154.46,504.77L152.55,500.97ZM151.89,505.44L155.71,505.44L153.80,501.64ZM153.14,506.05L156.96,506.05L155.05,502.25ZM154.39,506.59L158.21,506.59L156.30,502.79ZM155.64,507.06L159.46,507.06L157.55,503.26ZM156.89,507.44L160.71,507.44L158.80,503.63ZM158.14,507.72L161.96,507.72L160.05,503.91ZM159.39,507.85L163.21,507.85L161.30,504.05ZM160.64,507.72L164.46,507.72L162.55,503.91ZM161.89,507.44L165.71,507.44L163.80,503.63ZM163.14,507.06L166.96,507.06L165.05,503.26ZM164.39,506.59L168.21,506.59L166.30,502.79ZM165.64,506.05L169.46,506.05L167.55,502.25ZM166.89,505.44L170.71,505.44L168.80,501.64ZM168.14,504.77L171.96,504.77L170.05,500.97ZM150.64,496.02L154.46,496.02L152.55,492.22ZM151.89,496.56L155.71,496.56L153.80,492.75ZM153.14,497.08L156.96,497.08L155.05,493.28ZM154.39,497.60L158.21,497.60L156.30,493.80ZM155.64,498.10L159.46,498.10L157.55,494.30ZM156.89,498.59L160.71,498.59L158.80,494.78ZM158.14,499.05L161.96,499.05L160.05,495.25ZM159.39,499.45L163.21,499.45L161.30,495.65ZM160.64,499.05L164.46,499.05L162.55,495.25ZM161.89,498.59L165.71,498.59L163.80,494.78ZM163.14,498.10L166.96,498.10L165.05,494.30ZM164.39,497.60L168.21,497.60L166.30,493.80ZM165.64,497.08L169.46,497.08L167.55,493.28ZM166.89,496.56L170.71,496.56L168.80,492.75ZM168.14,496.02L171.96,496.02L170.05,492.22ZM151.26,497.39L155.09,497.39L153.18,493.59ZM152.51,497.92L156.34,497.92L154.43,494.12ZM153.76,498.44L157.59,498.44L155.68,494.64ZM155.01,498.95L158.84,498.95L156.93,495.15ZM156.26,499.45L160.09,499.45L158.18,495.64ZM157.51,499.92L161.34,499.92L159.43,496.12ZM158.76,500.36L162.59,500.36L160.68,496.56ZM160.01,500.36L163.84,500.36L161.93,496.56ZM161.26,499.92L165.09,499.92L163.18,496.12ZM162.51,499.45L166.34,499.45L164.43,495.64ZM163.76,498.95L167.59,498.95L165.68,495.15ZM165.01,498.44L168.84,498.44L166.93,494.64ZM166.26,497.92L170.09,497.92L168.18,494.12ZM167.51,497.39L171.34,497.39L169.43,493.59ZM168.76,496.85L172.59,496.85L170.68,493.05ZM150.64,491.09L154.46,491.09L152.55,487.29ZM151.89,491.58L155.71,491.58L153.80,487.78ZM153.14,492.03L156.96,492.03L155.05,488.22ZM154.39,492.43L158.21,492.43L156.30,488.63ZM155.64,492.79L159.46,492.79L157.55,488.99ZM156.89,493.09L160.71,493.09L158.80,489.29ZM158.14,493.32L161.96,493.32L160.05,489.52ZM159.39,493.45L163.21,493.45L161.30,489.65ZM160.64,493.32L164.46,493.32L162.55,489.52ZM161.89,493.09L165.71,493.09L163.80,489.29ZM163.14,492.79L166.96,492.79L165.05,488.99ZM164.39,492.43L168.21,492.43L166.30,488.63ZM165.64,492.03L169.46,492.03L167.55,488.22ZM166.89,491.58L170.71,491.58L168.80,487.78ZM168.14,491.09L171.96,491.09L170.05,487.29ZM151.26,492.44L155.09,492.44L153.18,488.64ZM152.51,492.91L156.34,492.91L154.43,489.10ZM153.76,493.33L157.59,493.33L155.68,489.53ZM155.01,493.72L158.84,493.72L156.93,489.91ZM156.26,494.05L160.09,494.05L158.18,490.25ZM157.51,494.32L161.34,494.32L159.43,490.52ZM158.76,494.51L162.59,494.51L160.68,490.70ZM160.01,494.51L163.84,494.51L161.93,490.70ZM161.26,494.32L165.09,494.32L163.18,490.52ZM162.51,494.05L166.34,494.05L164.43,490.25ZM163.76,493.72L167.59,493.72L165.68,489.91ZM165.01,493.33L168.84,493.33L166.93,489.53ZM166.26,492.91L170.09,492.91L168.18,489.10ZM167.51,492.44L171.34,492.44L169.43,488.64ZM168.76,491.93L172.59,491.93L170.68,488.13ZM150.64,485.02L154.46,485.02L152.55,481.21ZM151.89,485.52L155.71,485.52L153.80,481.72ZM153.14,485.98L156.96,485.98L155.05,482.18ZM154.39,486.40L158.21,486.40L156.30,482.60ZM155.64,486.77L159.46,486.77L157.55,482.97ZM156.89,487.08L160.71,487.08L158.80,483.28ZM158.14,487.32L161.96,487.32L160.05,483.52ZM159.39,487.45L163.21,487.45L161.30,483.65ZM160.64,487.32L164.46,487.32L162.55,483.52ZM161.89,487.08L165.71,487.08L163.80,483.28ZM163.14,486.77L166.96,486.77L165.05,482.97ZM164.39,486.40L168.21,486.40L166.30,482.60ZM165.64,485.98L169.46,485.98L167.55,482.18ZM166.89,485.52L170.71,485.52L168.80,481.72ZM168.14,485.02L171.96,485.02L170.05,481.21ZM151.26,486.37L155.09,486.37L153.18,482.57ZM152.51,486.86L156.34,486.86L154.43,483.05ZM153.76,487.30L157.59,487.30L155.68,483.49ZM155.01,487.69L158.84,487.69L156.93,483.89ZM156.26,488.03L160.09,488.03L158.18,484.23ZM157.51,488.31L161.34,488.31L159.43,484.51ZM158.76,488.51L162.59,488.51L160.68,484.70ZM160.01,488.51L163.84,488.51L161.93,484.70ZM161.26,488.31L165.09,488.31L163.18,484.51ZM162.51,488.03L166.34,488.03L164.43,484.23ZM163.76,487.69L167.59,487.69L165.68,483.89ZM165.01,487.30L168.84,487.30L166.93,483.49ZM166.26,486.86L170.09,486.86L168.18,483.05ZM167.51,486.37L171.34,486.37L169.43,482.57ZM168.76,485.85L172.59,485.85L170.68,482.05ZM159.29,436.25L163.11,436.25L161.20,432.45ZM156.29,443.55L160.11,443.55L158.20,439.75ZM162.29,448.85L166.11,448.85L164.20,445.05ZM153.29,456.55L157.11,456.55L155.20,452.75ZM159.29,460.55L163.11,460.55L161.20,456.75ZM165.49,460.15L169.31,460.15L167.40,456.35ZM153.29,463.95L157.11,463.95L155.20,460.15ZM156.29,463.35L160.11,463.35L158.20,459.55ZM162.29,463.75L166.11,463.75L164.20,459.95ZM157.39,466.15L161.21,466.15L159.30,462.35ZM165.09,465.45L168.91,465.45L167.00,461.65ZM160.99,468.25L164.81,468.25L162.90,464.45ZM150.59,472.95L154.41,472.95L152.50,469.15ZM155.09,474.65L158.91,474.65L157.00,470.85ZM159.29,475.95L163.11,475.95L161.20,472.15ZM163.59,475.55L167.41,475.55L165.50,471.75ZM167.89,473.85L171.71,473.85L169.80,470.05ZM153.39,479.85L157.21,479.85L155.30,476.05ZM156.79,478.35L160.61,478.35L158.70,474.55ZM161.99,479.05L165.81,479.05L163.90,475.25ZM157.39,481.85L161.21,481.85L159.30,478.05ZM161.09,483.25L164.91,483.25L163.00,479.45ZM165.29,481.35L169.11,481.35L167.20,477.55ZM151.29,482.35L155.11,482.35L153.20,478.55ZM167.59,482.85L171.41,482.85L169.50,479.05Z"/>
<path d="M184.5,514.5 L184.5,504.6 Q185.2,503.4 186.79999999999998,504.8 Q195.6,509.5 204.4,504.8 Q206.0,503.4 206.7,504.6 L206.7,514.5 Z" fill="#ad0030"/>
<path fill="#ad0030" d="M183.69,510.95L187.51,510.95L185.60,514.75ZM184.94,510.95L188.76,510.95L186.85,514.75ZM186.19,510.95L190.01,510.95L188.10,514.75ZM187.44,510.95L191.26,510.95L189.35,514.75ZM188.69,510.95L192.51,510.95L190.60,514.75ZM189.94,510.95L193.76,510.95L191.85,514.75ZM191.19,510.95L195.01,510.95L193.10,514.75ZM192.44,510.95L196.26,510.95L194.35,514.75ZM193.69,510.95L197.51,510.95L195.60,514.75ZM194.94,510.95L198.76,510.95L196.85,514.75ZM196.19,510.95L200.01,510.95L198.10,514.75ZM197.44,510.95L201.26,510.95L199.35,514.75ZM198.69,510.95L202.51,510.95L200.60,514.75ZM199.94,510.95L203.76,510.95L201.85,514.75ZM201.19,510.95L205.01,510.95L203.10,514.75ZM202.44,510.95L206.26,510.95L204.35,514.75ZM203.69,510.95L207.51,510.95L205.60,514.75ZM183.69,502.48L187.51,502.48L185.60,506.28ZM184.94,502.99L188.76,502.99L186.85,506.79ZM186.19,503.46L190.01,503.46L188.10,507.26ZM187.44,503.89L191.26,503.89L189.35,507.69ZM188.69,504.27L192.51,504.27L190.60,508.07ZM189.94,504.59L193.76,504.59L191.85,508.39ZM191.19,504.86L195.01,504.86L193.10,508.66ZM192.44,505.05L196.26,505.05L194.35,508.85ZM193.69,505.15L197.51,505.15L195.60,508.95ZM194.94,505.05L198.76,505.05L196.85,508.85ZM196.19,504.86L200.01,504.86L198.10,508.66ZM197.44,504.59L201.26,504.59L199.35,508.39ZM198.69,504.27L202.51,504.27L200.60,508.07ZM199.94,503.89L203.76,503.89L201.85,507.69ZM201.19,503.46L205.01,503.46L203.10,507.26ZM202.44,502.99L206.26,502.99L204.35,506.79ZM203.69,502.48L207.51,502.48L205.60,506.28ZM184.94,495.88L188.76,495.88L186.85,499.68ZM186.19,496.51L190.01,496.51L188.10,500.31ZM187.44,497.07L191.26,497.07L189.35,500.88ZM188.69,497.58L192.51,497.58L190.60,501.38ZM189.94,498.01L193.76,498.01L191.85,501.81ZM191.19,498.36L195.01,498.36L193.10,502.16ZM192.44,498.62L196.26,498.62L194.35,502.42ZM193.69,498.75L197.51,498.75L195.60,502.55ZM194.94,498.62L198.76,498.62L196.85,502.42ZM196.19,498.36L200.01,498.36L198.10,502.16ZM197.44,498.01L201.26,498.01L199.35,501.81ZM198.69,497.58L202.51,497.58L200.60,501.38ZM199.94,497.07L203.76,497.07L201.85,500.88ZM201.19,496.51L205.01,496.51L203.10,500.31ZM202.44,495.88L206.26,495.88L204.35,499.68ZM184.94,491.81L188.76,491.81L186.85,495.61ZM186.19,492.40L190.01,492.40L188.10,496.20ZM187.44,492.96L191.26,492.96L189.35,496.76ZM188.69,493.48L192.51,493.48L190.60,497.29ZM189.94,493.97L193.76,493.97L191.85,497.77ZM191.19,494.41L195.01,494.41L193.10,498.21ZM192.44,494.79L196.26,494.79L194.35,498.59ZM193.69,495.05L197.51,495.05L195.60,498.85ZM194.94,494.79L198.76,494.79L196.85,498.59ZM196.19,494.41L200.01,494.41L198.10,498.21ZM197.44,493.97L201.26,493.97L199.35,497.77ZM198.69,493.48L202.51,493.48L200.60,497.29ZM199.94,492.96L203.76,492.96L201.85,496.76ZM201.19,492.40L205.01,492.40L203.10,496.20ZM202.44,491.81L206.26,491.81L204.35,495.61ZM185.56,493.21L189.39,493.21L187.47,497.01ZM186.81,493.78L190.64,493.78L188.72,497.58ZM188.06,494.33L191.89,494.33L189.97,498.13ZM189.31,494.83L193.14,494.83L191.22,498.64ZM190.56,495.30L194.39,495.30L192.47,499.10ZM191.81,495.71L195.64,495.71L193.72,499.51ZM193.06,496.04L196.89,496.04L194.97,499.85ZM194.31,496.04L198.14,496.04L196.22,499.85ZM195.56,495.71L199.39,495.71L197.47,499.51ZM196.81,495.30L200.64,495.30L198.72,499.10ZM198.06,494.83L201.89,494.83L199.97,498.64ZM199.31,494.33L203.14,494.33L201.22,498.13ZM200.56,493.78L204.39,493.78L202.47,497.58ZM201.81,493.21L205.64,493.21L203.72,497.01ZM203.06,492.61L206.89,492.61L204.97,496.41ZM183.69,484.44L187.51,484.44L185.60,488.25ZM184.94,485.03L188.76,485.03L186.85,488.84ZM186.19,485.60L190.01,485.60L188.10,489.40ZM187.44,486.14L191.26,486.14L189.35,489.94ZM188.69,486.64L192.51,486.64L190.60,490.45ZM189.94,487.11L193.76,487.11L191.85,490.92ZM191.19,487.54L195.01,487.54L193.10,491.34ZM192.44,487.90L196.26,487.90L194.35,491.70ZM193.69,488.15L197.51,488.15L195.60,491.95ZM194.94,487.90L198.76,487.90L196.85,491.70ZM196.19,487.54L200.01,487.54L198.10,491.34ZM197.44,487.11L201.26,487.11L199.35,490.92ZM198.69,486.64L202.51,486.64L200.60,490.45ZM199.94,486.14L203.76,486.14L201.85,489.94ZM201.19,485.60L205.01,485.60L203.10,489.40ZM202.44,485.03L206.26,485.03L204.35,488.84ZM203.69,484.44L207.51,484.44L205.60,488.25ZM184.31,485.84L188.14,485.84L186.22,489.64ZM185.56,486.42L189.39,486.42L187.47,490.22ZM186.81,486.97L190.64,486.97L188.72,490.77ZM188.06,487.49L191.89,487.49L189.97,491.30ZM189.31,487.98L193.14,487.98L191.22,491.79ZM190.56,488.43L194.39,488.43L192.47,492.23ZM191.81,488.83L195.64,488.83L193.72,492.63ZM193.06,489.15L196.89,489.15L194.97,492.95ZM194.31,489.15L198.14,489.15L196.22,492.95ZM195.56,488.83L199.39,488.83L197.47,492.63ZM196.81,488.43L200.64,488.43L198.72,492.23ZM198.06,487.98L201.89,487.98L199.97,491.79ZM199.31,487.49L203.14,487.49L201.22,491.30ZM200.56,486.97L204.39,486.97L202.47,490.77ZM201.81,486.42L205.64,486.42L203.72,490.22ZM203.06,485.84L206.89,485.84L204.97,489.64ZM183.69,478.34L187.51,478.34L185.60,482.15ZM184.94,478.93L188.76,478.93L186.85,482.74ZM186.19,479.50L190.01,479.50L188.10,483.30ZM187.44,480.04L191.26,480.04L189.35,483.84ZM188.69,480.54L192.51,480.54L190.60,484.35ZM189.94,481.01L193.76,481.01L191.85,484.82ZM191.19,481.44L195.01,481.44L193.10,485.24ZM192.44,481.80L196.26,481.80L194.35,485.60ZM193.69,482.05L197.51,482.05L195.60,485.85ZM194.94,481.80L198.76,481.80L196.85,485.60ZM196.19,481.44L200.01,481.44L198.10,485.24ZM197.44,481.01L201.26,481.01L199.35,484.82ZM198.69,480.54L202.51,480.54L200.60,484.35ZM199.94,480.04L203.76,480.04L201.85,483.84ZM201.19,479.50L205.01,479.50L203.10,483.30ZM202.44,478.93L206.26,478.93L204.35,482.74ZM203.69,478.34L207.51,478.34L205.60,482.15ZM184.31,479.74L188.14,479.74L186.22,483.54ZM185.56,480.32L189.39,480.32L187.47,484.12ZM186.81,480.87L190.64,480.87L188.72,484.67ZM188.06,481.39L191.89,481.39L189.97,485.20ZM189.31,481.88L193.14,481.88L191.22,485.69ZM190.56,482.33L194.39,482.33L192.47,486.13ZM191.81,482.73L195.64,482.73L193.72,486.53ZM193.06,483.05L196.89,483.05L194.97,486.85ZM194.31,483.05L198.14,483.05L196.22,486.85ZM195.56,482.73L199.39,482.73L197.47,486.53ZM196.81,482.33L200.64,482.33L198.72,486.13ZM198.06,481.88L201.89,481.88L199.97,485.69ZM199.31,481.39L203.14,481.39L201.22,485.20ZM200.56,480.87L204.39,480.87L202.47,484.67ZM201.81,480.32L205.64,480.32L203.72,484.12ZM203.06,479.74L206.89,479.74L204.97,483.54ZM184.94,472.58L188.76,472.58L186.85,476.38ZM186.19,473.19L190.01,473.19L188.10,476.99ZM187.44,473.77L191.26,473.77L189.35,477.57ZM188.69,474.32L192.51,474.32L190.60,478.12ZM189.94,474.83L193.76,474.83L191.85,478.63ZM191.19,475.29L195.01,475.29L193.10,479.09ZM192.44,475.68L196.26,475.68L194.35,479.48ZM193.69,475.95L197.51,475.95L195.60,479.75ZM194.94,475.68L198.76,475.68L196.85,479.48ZM196.19,475.29L200.01,475.29L198.10,479.09ZM197.44,474.83L201.26,474.83L199.35,478.63ZM198.69,474.32L202.51,474.32L200.60,478.12ZM199.94,473.77L203.76,473.77L201.85,477.57ZM201.19,473.19L205.01,473.19L203.10,476.99ZM202.44,472.58L206.26,472.58L204.35,476.38ZM185.56,473.99L189.39,473.99L187.47,477.79ZM186.81,474.59L190.64,474.59L188.72,478.39ZM188.06,475.15L191.89,475.15L189.97,478.95ZM189.31,475.68L193.14,475.68L191.22,479.48ZM190.56,476.16L194.39,476.16L192.47,479.97ZM191.81,476.59L195.64,476.59L193.72,480.40ZM193.06,476.94L196.89,476.94L194.97,480.74ZM194.31,476.94L198.14,476.94L196.22,480.74ZM195.56,476.59L199.39,476.59L197.47,480.40ZM196.81,476.16L200.64,476.16L198.72,479.97ZM198.06,475.68L201.89,475.68L199.97,479.48ZM199.31,475.15L203.14,475.15L201.22,478.95ZM200.56,474.59L204.39,474.59L202.47,478.39ZM201.81,473.99L205.64,473.99L203.72,477.79ZM203.06,473.36L206.89,473.36L204.97,477.17ZM193.49,422.95L197.31,422.95L195.40,426.75ZM190.39,429.65L194.21,429.65L192.30,433.45ZM196.59,428.45L200.41,428.45L198.50,432.25ZM193.49,436.45L197.31,436.45L195.40,440.25ZM193.49,446.35L197.31,446.35L195.40,450.15ZM193.49,452.85L197.31,452.85L195.40,456.65ZM184.89,455.75L188.71,455.75L186.80,459.55ZM202.49,455.25L206.31,455.25L204.40,459.05ZM190.39,458.95L194.21,458.95L192.30,462.75ZM196.59,458.65L200.41,458.65L198.50,462.45ZM187.89,463.15L191.71,463.15L189.80,466.95ZM196.59,462.35L200.41,462.35L198.50,466.15ZM201.49,463.55L205.31,463.55L203.40,467.35ZM190.99,465.65L194.81,465.65L192.90,469.45ZM197.19,465.95L201.01,465.95L199.10,469.75ZM187.89,467.85L191.71,467.85L189.80,471.65ZM195.29,467.85L199.11,467.85L197.20,471.65ZM199.59,467.55L203.41,467.55L201.50,471.35ZM191.59,471.55L195.41,471.55L193.50,475.35ZM185.49,473.35L189.31,473.35L187.40,477.15ZM202.09,472.75L205.91,472.75L204.00,476.55ZM194.29,464.35L198.11,464.35L196.20,468.15Z"/>
<path d="M190.4,507.4 Q195.6,511.8 200.79999999999998,507.4" fill="none" stroke="#fff" stroke-width="1.3" stroke-linecap="round"/>
<line x1="161.3" y1="490.2" x2="161.3" y2="519.2" stroke="#1a1a2a" stroke-width="1.0"/>
<line x1="150.10000000000002" y1="504.6" x2="172.5" y2="504.6" stroke="#1a1a2a" stroke-width="1.1"/>
<line x1="155.8" y1="519.2" x2="166.8" y2="519.2" stroke="#1a1a1a" stroke-width="1.2"/>
<line x1="195.6" y1="485.6" x2="195.6" y2="520.3" stroke="#1a1a2a" stroke-width="1.0"/>
<line x1="184.4" y1="502.9" x2="206.79999999999998" y2="502.9" stroke="#1a1a2a" stroke-width="1.1"/>
<line x1="190.29999999999998" y1="520.3" x2="200.9" y2="520.3" stroke="#1a1a1a" stroke-width="1.2"/>
</svg></body></html>
